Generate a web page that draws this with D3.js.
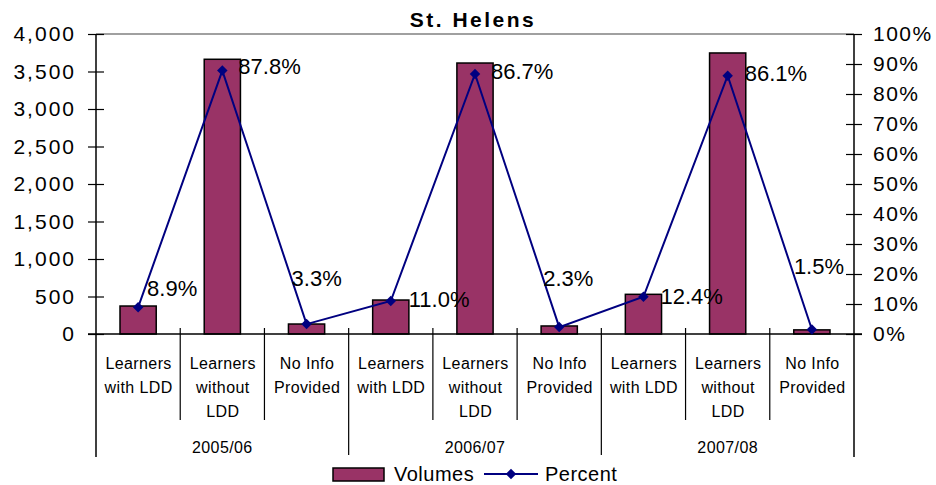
<!DOCTYPE html>
<html>
<head>
<meta charset="utf-8">
<script src="https://cdn.jsdelivr.net/npm/d3@7"></script>
<style>
  html, body { margin: 0; padding: 0; background: #fff; }
  svg { display: block; font-family: "Liberation Sans", Arial, sans-serif; }
</style>
</head>
<body>
<svg id="chart" width="936" height="485"></svg>
<script>
// ---- data ----
const title = "St. Helens";
const years = ["2005/06", "2006/07", "2007/08"];
const categories = [["Learners", "with LDD"], ["Learners", "without", "LDD"], ["No Info", "Provided"]];
const volumes = [373, 3663, 133, 453, 3613, 107, 529, 3747, 55];
const percents = [8.9, 87.8, 3.3, 11.0, 86.7, 2.3, 12.4, 86.1, 1.5];
const volumeTicks = [0, 500, 1000, 1500, 2000, 2500, 3000, 3500, 4000];
const percentTicks = [0, 10, 20, 30, 40, 50, 60, 70, 80, 90, 100];
const seriesNames = ["Volumes", "Percent"];

// ---- layout / style (not data) ----
const labelOffsets = [[9, -19], [16, -4], [-15, -46], [18, -2], [16, -3], [-16, -49], [17, -1], [17, -2], [-18, -63]];
const barColor = "#993366";
const lineColor = "#000080";
const M = { left: 96, right: 854, top: 34, bottom: 334 };

const svg = d3.select("#chart");

const points = [];
years.forEach((yr, gi) => categories.forEach((c, ci) => {
  const i = gi * categories.length + ci;
  points.push({ i, year: yr, cat: c, vol: volumes[i], pct: percents[i] });
}));

const x = d3.scaleBand().domain(points.map(d => d.i)).range([M.left, M.right]).padding(0);
const y = d3.scaleLinear().domain([0, 4000]).range([M.bottom, M.top]);
const y2 = d3.scaleLinear().domain([0, 100]).range([M.bottom, M.top]);
const step = x.step();
const barW = step * 0.43;

// top border
svg.append("line").attr("x1", M.left).attr("x2", M.right).attr("y1", M.top).attr("y2", M.top)
  .attr("stroke", "#808080").attr("stroke-width", 1.5);

// bars
svg.append("g").selectAll("rect").data(points).join("rect")
  .attr("x", d => x(d.i) + (step - barW) / 2)
  .attr("y", d => y(d.vol))
  .attr("width", barW)
  .attr("height", d => y(0) - y(d.vol))
  .attr("fill", barColor).attr("stroke", "#000").attr("stroke-width", 1.5);

// left axis
const axL = svg.append("g").attr("transform", `translate(${M.left},0)`)
  .call(d3.axisLeft(y).tickValues(volumeTicks).tickFormat(d3.format(",")).tickSize(8).tickPadding(15));
axL.select(".domain").remove();
axL.selectAll(".tick line").attr("x2", 8).attr("x1", -8).attr("stroke", "#000").attr("stroke-width", 1.2);
axL.selectAll(".tick text").attr("font-size", 21).attr("letter-spacing", 2).attr("fill", "#000")
  .attr("font-family", "Liberation Sans, Arial, sans-serif").attr("x", -20);
svg.append("line").attr("x1", M.left).attr("x2", M.left).attr("y1", M.top).attr("y2", 457)
  .attr("stroke", "#000").attr("stroke-width", 1.5);

// right axis
const axR = svg.append("g").attr("transform", `translate(${M.right},0)`)
  .call(d3.axisRight(y2).tickValues(percentTicks).tickFormat(d => d + "%").tickSize(8).tickPadding(11));
axR.select(".domain").remove();
axR.selectAll(".tick line").attr("x1", -8).attr("x2", 8).attr("stroke", "#000").attr("stroke-width", 1.2);
axR.selectAll(".tick text").attr("font-size", 21).attr("letter-spacing", 1.5).attr("fill", "#000")
  .attr("font-family", "Liberation Sans, Arial, sans-serif").attr("x", 19);
svg.append("line").attr("x1", M.right).attr("x2", M.right).attr("y1", M.top).attr("y2", 457)
  .attr("stroke", "#000").attr("stroke-width", 1.5);

// x axis line
svg.append("line").attr("x1", M.left - 8).attr("x2", M.right + 8).attr("y1", y(0)).attr("y2", y(0))
  .attr("stroke", "#000").attr("stroke-width", 1.5);

// category separators
const nCat = categories.length;
for (let k = 1; k < points.length; k++) {
  const xs = M.left + k * step;
  const isGroup = k % nCat === 0;
  svg.append("line").attr("x1", xs).attr("x2", xs).attr("y1", y(0) - 6).attr("y2", isGroup ? 455 : 420)
    .attr("stroke", "#000").attr("stroke-width", 1.2);
}

// category labels
const catG = svg.append("g");
points.forEach(d => {
  const t = catG.append("text").attr("text-anchor", "middle")
    .attr("font-size", 16).attr("letter-spacing", 0.4).attr("fill", "#000");
  d.cat.forEach((line, li) => {
    t.append("tspan").attr("x", x(d.i) + step / 2 + 0.5).attr("y", 363 + li * 24).attr("dy", "0.35em").text(line);
  });
});
// year labels
years.forEach((yr, gi) => {
  const mid = x(gi * nCat + 1) + step / 2;
  svg.append("text").attr("x", mid).attr("y", 447).attr("dy", "0.35em").attr("text-anchor", "middle")
    .attr("font-size", 16).attr("letter-spacing", 0.4).attr("fill", "#000").text(yr);
});

// percent line
const line = d3.line().x(d => x(d.i) + step / 2).y(d => y2(d.pct));
svg.append("path").datum(points).attr("d", line).attr("fill", "none")
  .attr("stroke", lineColor).attr("stroke-width", 2);
const diamond = d3.symbol().type(d3.symbolDiamond2).size(70);
svg.append("g").selectAll("path").data(points).join("path")
  .attr("transform", d => `translate(${x(d.i) + step / 2},${y2(d.pct)})`)
  .attr("d", diamond).attr("fill", lineColor);

// data labels
svg.append("g").selectAll("text").data(points).join("text")
  .attr("x", d => x(d.i) + step / 2 + labelOffsets[d.i][0])
  .attr("y", d => y2(d.pct) + labelOffsets[d.i][1])
  .attr("dy", "0.35em").attr("font-size", 22).attr("fill", "#000")
  .text(d => d.pct.toFixed(1) + "%");

// title
svg.append("text").attr("x", 473).attr("y", 20).attr("dy", "0.35em").attr("text-anchor", "middle")
  .attr("font-size", 21).attr("font-weight", "bold").attr("letter-spacing", 2.5).attr("fill", "#000").text(title);

// legend
const lg = svg.append("g");
lg.append("rect").attr("x", 333).attr("y", 468).attr("width", 51).attr("height", 13)
  .attr("fill", barColor).attr("stroke", "#000").attr("stroke-width", 1.5);
lg.append("text").attr("x", 394).attr("y", 474).attr("dy", "0.35em").attr("font-size", 20)
  .attr("letter-spacing", 0.5).attr("fill", "#000").text(seriesNames[0]);
lg.append("line").attr("x1", 484).attr("x2", 538).attr("y1", 474).attr("y2", 474)
  .attr("stroke", lineColor).attr("stroke-width", 2);
lg.append("path").attr("transform", "translate(511,474)").attr("d", diamond).attr("fill", lineColor);
lg.append("text").attr("x", 545).attr("y", 474).attr("dy", "0.35em").attr("font-size", 20)
  .attr("letter-spacing", 0.5).attr("fill", "#000").text(seriesNames[1]);
</script>
</body>
</html>
